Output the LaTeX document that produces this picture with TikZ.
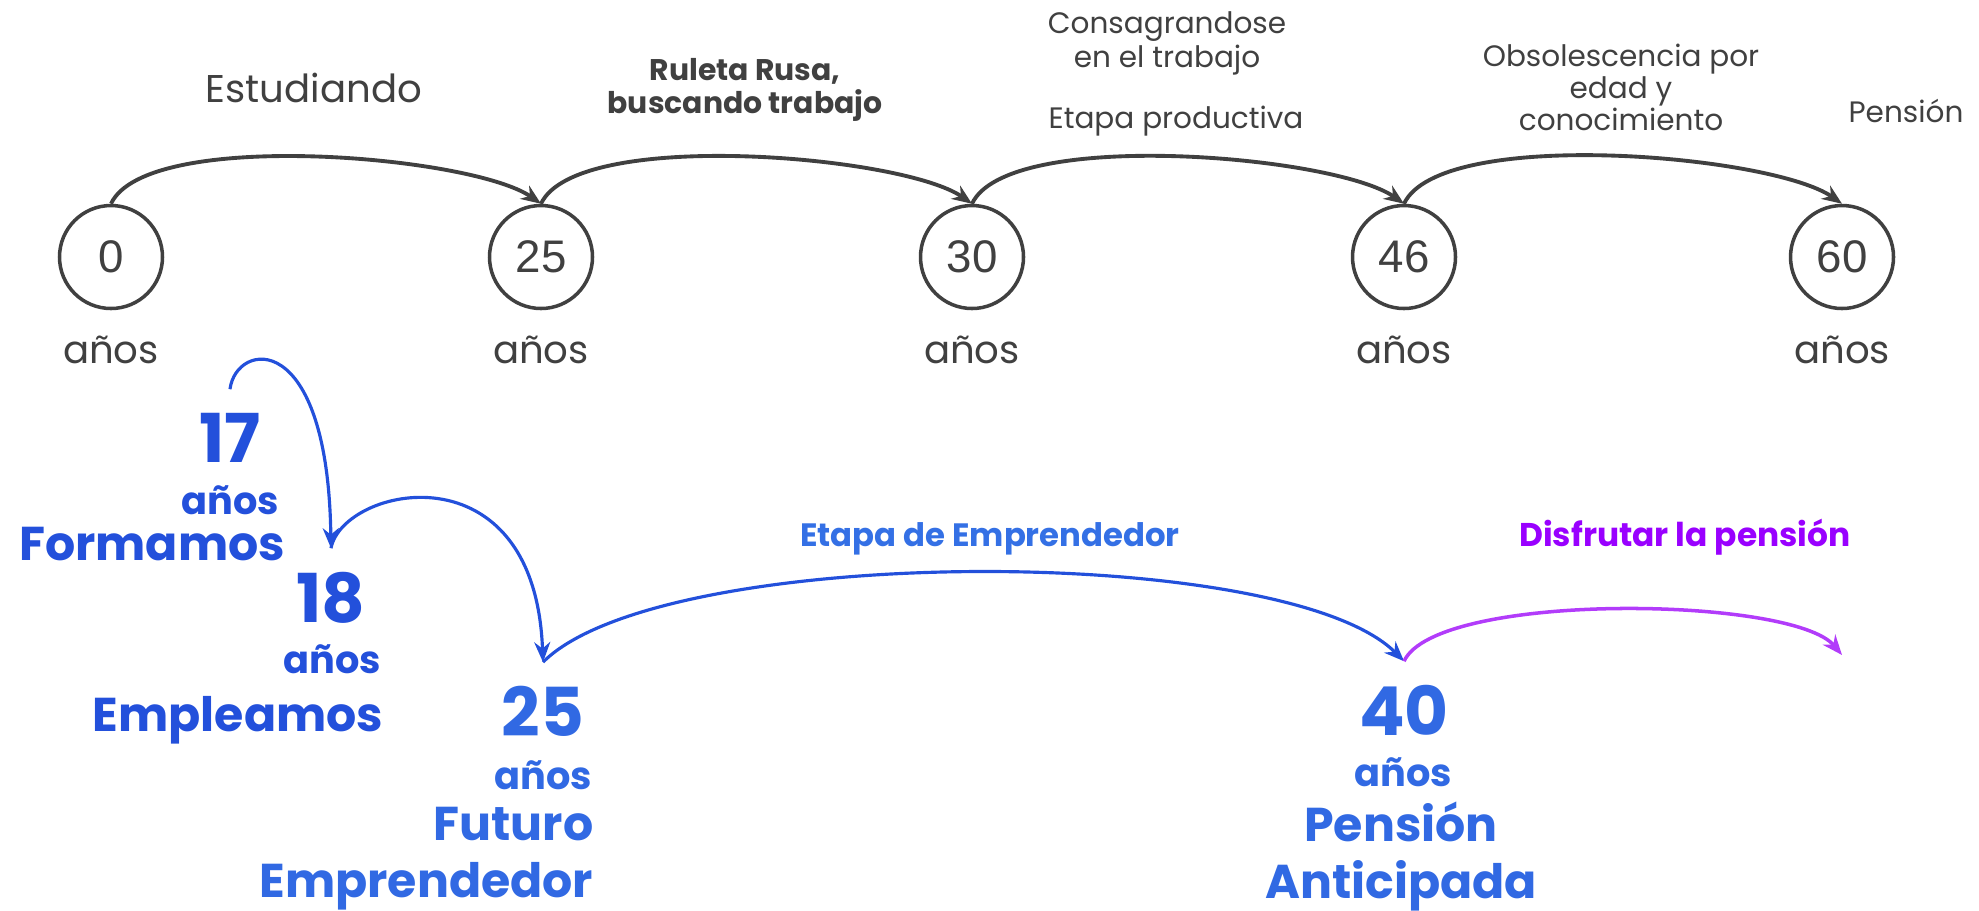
\documentclass[tikz,border=0pt]{standalone}
\usepackage{fontspec}
\setmainfont{Poppins}
\newfontfamily\digitfont{Liberation Sans}
\usetikzlibrary{arrows.meta,positioning}

\definecolor{inkgray}{HTML}{404040}
\definecolor{deepblue}{HTML}{2350DB}
\definecolor{midblue}{HTML}{3169E3}
\definecolor{plainblue}{HTML}{3470E5}
\definecolor{pensionviolet}{HTML}{9900FF}
\definecolor{arcviolet}{HTML}{B23CFA}

\begin{document}
\begin{tikzpicture}[
  x=0.1mm, y=0.1mm,
  age/.style={
    draw=inkgray,
    circle,
    line width=1pt,
    minimum size=10.3mm,
    inner sep=0pt,
    text=inkgray,
    font=\digitfont\fontsize{13}{15}\selectfont
  },
  years/.style={text=inkgray, inner sep=0pt, anchor=base, font=\fontsize{11}{13}\selectfont},
  stage/.style={text=inkgray, align=center, inner sep=0pt, font=\fontsize{8.4}{9.6}\selectfont},
  arrow/.style={-{Stealth[length=2mm, width=1.6mm]}, line width=1.1pt, draw=inkgray},
  bignum/.style={anchor=base, inner xsep=0pt, inner ysep=6.5pt, font=\bfseries\fontsize{19.2}{22}\selectfont},
  smallyears/.style={anchor=base, inner sep=0pt, font=\bfseries\fontsize{10.9}{13}\selectfont},
  role/.style={inner sep=0pt, font=\bfseries\fontsize{13.5}{16.3}\selectfont},
  bluearrow/.style={-{Stealth[length=2mm, width=1.6mm]}, line width=0.9pt}
]
\useasboundingbox (0,0) rectangle (1979,-910);

% top timeline
\node[age] (c0) at (111,-257) {0};
\node[age] (c25) at (541,-257) {25};
\node[age] (c30) at (972,-257) {30};
\node[age] (c46) at (1404,-257) {46};
\node[age] (c60) at (1842,-257) {60};

\node[years] (y0) at (111,-363) {años};
\node[years] (y25) at (541,-363) {años};
\node[years] (y30) at (972,-363) {años};
\node[years] (y46) at (1404,-363) {años};
\node[years] (y60) at (1842,-363) {años};

\node[stage, anchor=base, font=\fontsize{11}{13}\selectfont] (study) at (314,-102) {Estudiando};
\node[stage, anchor=north, font=\bfseries\fontsize{8.5}{9.4}\selectfont] (roulette) at (745,-58) {Ruleta Rusa,\\buscando trabajo};
\node[stage, anchor=north] (devote) at (1167,-11) {Consagrandose\\en el trabajo};
\node[stage, anchor=base] (productive) at (1176,-128) {Etapa productiva};
\node[stage, anchor=north, font=\fontsize{8.4}{9.1}\selectfont] (obsolete) at (1621,-43) {Obsolescencia por\\edad y\\conocimiento};
\node[stage, anchor=base] (pension) at (1906,-122) {Pensión};

\draw[arrow] (c0.north) to[out=65, in=145, looseness=0.5] (c25.north);
\draw[arrow] (c25.north) to[out=65, in=145, looseness=0.5] (c30.north);
\draw[arrow] (c30.north) to[out=65, in=145, looseness=0.5] (c46.north);
\draw[arrow] (c46.north) to[out=65, in=145, looseness=0.5] (c60.north);

% entrepreneur path
\node[bignum, text=deepblue] (n17) at (230,-462) {17};
\node[smallyears, text=deepblue] (y17) at (230,-514) {años};
\node[role, text=deepblue, anchor=base] (train) at (152,-560) {Formamos};

\node[bignum, text=deepblue] (n18) at (331,-622) {18};
\node[smallyears, text=deepblue] (y18) at (332,-673) {años};
\node[role, text=deepblue, anchor=base] (employ) at (238,-731) {Empleamos};

\node[bignum, text=midblue] (n25) at (543,-736) {25};
\node[smallyears, text=midblue] (yb25) at (543,-789) {años};
\node[role, text=midblue, align=right, anchor=north east] (future) at (594,-806) {Futuro\\Emprendedor};

\node[bignum, text=midblue] (n40) at (1404,-735) {40};
\node[smallyears, text=midblue] (y40) at (1403,-786) {años};
\node[role, text=midblue, align=center, anchor=north] (early) at (1401,-801) {Pensión\\Anticipada};

\node[anchor=base, text=plainblue, font=\bfseries\fontsize{9.2}{11}\selectfont] (venture) at (990,-546) {Etapa de Emprendedor};
\node[anchor=base, text=pensionviolet, font=\bfseries\fontsize{9.35}{11}\selectfont] (enjoy) at (1685,-546) {Disfrutar la pensión};

\coordinate (pensionend) at (1842,-655);

\draw[bluearrow, deepblue] (n17.north) .. controls +(6,48) and +(-3,222) .. (n18.north);
\draw[bluearrow, deepblue] (n18.north) .. controls +(12,62) and +(-8,218) .. (n25.north);
\draw[bluearrow, deepblue] (n25.north) to[out=45, in=135, looseness=0.5] (n40.north);
\draw[bluearrow, arcviolet, line width=1pt] (n40.north) to[out=65, in=130, looseness=0.45] (pensionend);

\end{tikzpicture}
\end{document}
